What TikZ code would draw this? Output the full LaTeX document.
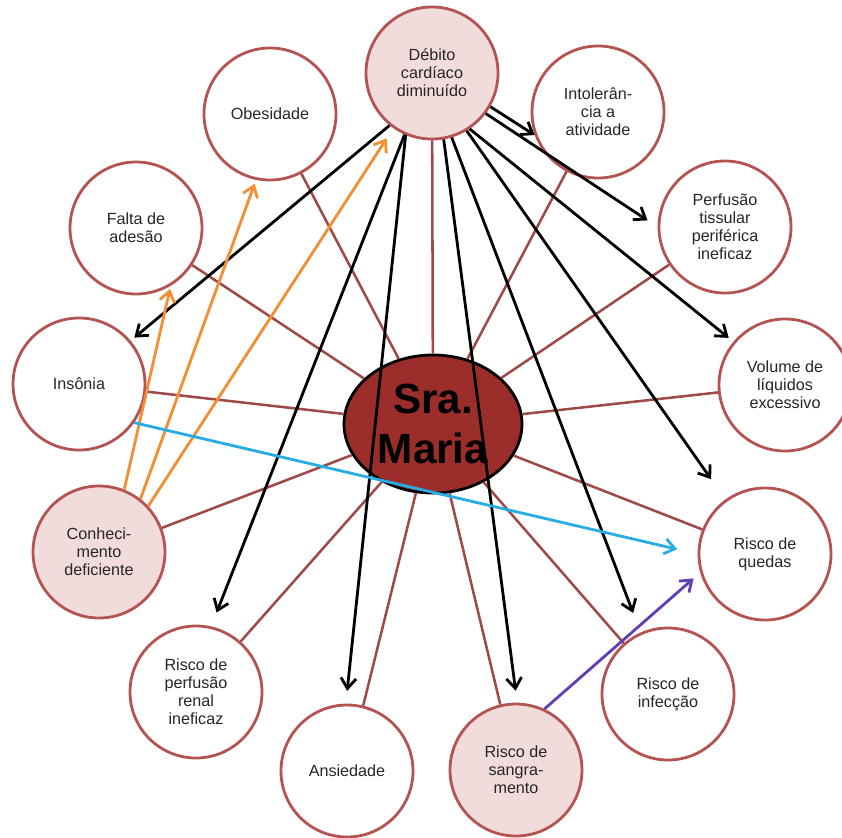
\documentclass[tikz,border=0pt]{standalone}
\usepackage{fontspec}
\setmainfont{Liberation Sans}
\usetikzlibrary{arrows.meta,shapes.geometric}

\definecolor{rim}{RGB}{180,84,82}
\definecolor{spoke}{RGB}{158,74,72}
\definecolor{blush}{RGB}{242,220,219}
\definecolor{core}{RGB}{155,45,42}
\definecolor{ink}{RGB}{38,38,38}
\definecolor{amber}{RGB}{242,142,52}
\definecolor{sky}{RGB}{40,172,228}
\definecolor{violet}{RGB}{98,62,182}

\begin{document}
\begin{tikzpicture}[x=0.25mm,y=-0.25mm,
  >={Straight Barb[length=2.6mm,width=3.8mm]},
  dx/.style={circle,draw=rim,line width=2pt,fill=white,minimum size=33mm,
    inner sep=0pt,align=center,text=ink,font=\fontsize{11.5}{12.8}\selectfont},
  spokeline/.style={draw=spoke,line width=1.8pt},
  cause/.style={->,line width=2pt,black},
  teach/.style={->,line width=2pt,amber}]
  \useasboundingbox (0,0) rectangle (842,837);

  % diagnosticos em volta
  \node[dx,fill=blush] (deb) at (432,73) {Débito\\cardíaco\\diminuído};
  \node[dx] (intol) at (598,112) {Intolerân-\\cia a\\atividade};
  \node[dx] (perf) at (725,227) {Perfusão\\tissular\\periférica\\ineficaz};
  \node[dx] (vol) at (785,385) {Volume de\\líquidos\\excessivo};
  \node[dx] (quedas) at (765,554) {Risco de\\quedas};
  \node[dx] (infec) at (668,694) {Risco de\\infecção};
  \node[dx,fill=blush] (sang) at (516,770) {Risco de\\sangra-\\mento};
  \node[dx] (ans) at (347,771) {Ansiedade};
  \node[dx] (renal) at (196,692) {Risco de\\perfusão\\renal\\ineficaz};
  \node[dx,fill=blush] (conh) at (99,552) {Conheci-\\mento\\deficiente};
  \node[dx] (ins) at (79,384) {Insônia};
  \node[dx] (falta) at (136,228) {Falta de\\adesão};
  \node[dx] (obes) at (270,114) {Obesidade};

  % paciente no centro
  \node[ellipse,draw=black,line width=2pt,fill=core,minimum width=44.5mm,
    minimum height=34.5mm,inner sep=0pt,align=center,
    font=\fontsize{30}{35}\selectfont\bfseries] (maria) at (433,424) {Sra.\\Maria};

  \foreach \d in {deb,intol,perf,vol,quedas,infec,sang,ans,renal,conh,ins,falta,obes}
    \draw[spokeline] (maria) -- (\d);

  % consequencias do debito cardiaco
  \draw[cause,shorten >=1.2mm] (deb.231) -- (ins.40);
  \draw[cause,shorten >=3.7mm] (deb.246) -- (renal.77);
  \draw[cause,shorten >=3.2mm] (deb.247) -- (ans.91);
  \draw[cause,shorten >=3mm] (deb.280) -- (sang.89);
  \draw[cause,shorten >=5.2mm] (deb.287) -- (infec.114);
  \draw[cause,shorten >=6.2mm] (deb.301) -- (quedas.126);
  \draw[cause,shorten >=1.5mm] (deb.304) -- (vol.140);
  \draw[cause,shorten >=3mm] (deb.323) -- (perf.180);
  \draw[cause] (deb.330) -- (intol.200);

  % conhecimento deficiente
  \draw[teach,shorten >=0.8mm] (conh.68) -- (falta.301);
  \draw[teach,shorten >=1mm] (conh.52) -- (obes.258);
  \draw[teach,shorten >=3mm] (conh.43) -- (deb.235);

  \draw[->,line width=2pt,sky,shorten >=5.2mm] (ins.-35) -- (quedas.180);
  \draw[->,line width=2pt,violet,shorten >=2.2mm] (sang.65) -- (quedas.196);
\end{tikzpicture}
\end{document}
